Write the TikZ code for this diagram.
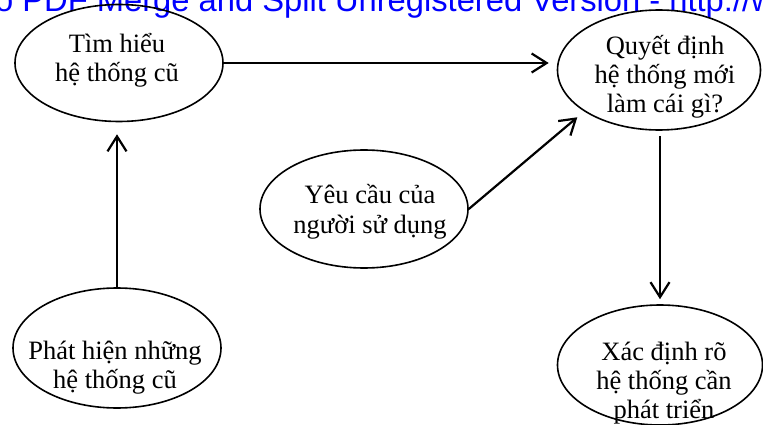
\documentclass[tikz,border=0pt]{standalone}
\usepackage{fontspec}
\setmainfont{Liberation Serif}
\newfontfamily\wmfont{Liberation Sans}
\usetikzlibrary{shapes.geometric,arrows.meta}
\definecolor{wmblue}{RGB}{0,0,255}
\begin{document}
\begin{tikzpicture}[x=1pt,y=-1pt,
  ell/.style={draw, ellipse, line width=1.6pt, inner sep=0pt},
  lbl/.style={align=center, font=\fontsize{26.5}{29}\selectfont, inner sep=0pt, anchor=base},
  arr/.style={line width=2.2pt, -{Straight Barb[length=15pt,width=19pt,line width=2.2pt]}}]
\useasboundingbox (0,0) rectangle (763,425);
\clip (0,0) rectangle (763,425);
% watermark
\node[anchor=base west, inner sep=0pt, text=wmblue, font=\wmfont\fontsize{32.7}{36}\selectfont] (wm) at (-5,12) {o PDF Merge and Split Unregistered Version - http://www.};
% ellipses
\node[ell, minimum width=208pt, minimum height=117pt] (e1) at (119,63) {};
\node[ell, minimum width=203pt, minimum height=120pt] (e2) at (659,70) {};
\node[ell, minimum width=208pt, minimum height=118pt] (e3) at (364,209) {};
\node[ell, minimum width=208pt, minimum height=120pt] (e4) at (117,348) {};
\node[ell, minimum width=205pt, minimum height=120pt] (e5) at (660,365) {};
% labels (anchor = baseline of last line)
\node[lbl] (t1) at (117,82) {Tìm hiểu\\hệ thống cũ};
\node[lbl] (t2) at (665,113) {Quyết định\\hệ thống mới\\làm cái gì?};
\node[lbl] (t3) at (370,233) {Yêu cầu của\\người sử dụng};
\node[lbl] (t4) at (115,388) {Phát hiện những\\hệ thống cũ};
\node[lbl] (t5) at (664,418) {Xác định rõ\\hệ thống cần\\phát triển};
% arrows
\draw[arr, shorten >=8pt] (e1.east) -- (e1.east -| e2.west);
\draw[arr, shorten >=9pt] (e3.east) -- (e2.209);
\draw[arr, shorten <=5pt, shorten >=5pt] (e2.south -| e5.north) -- (e5.north);
\draw[arr, shorten >=12pt] (e4.north) -- (e4.north |- e1.south);
\end{tikzpicture}
\end{document}
